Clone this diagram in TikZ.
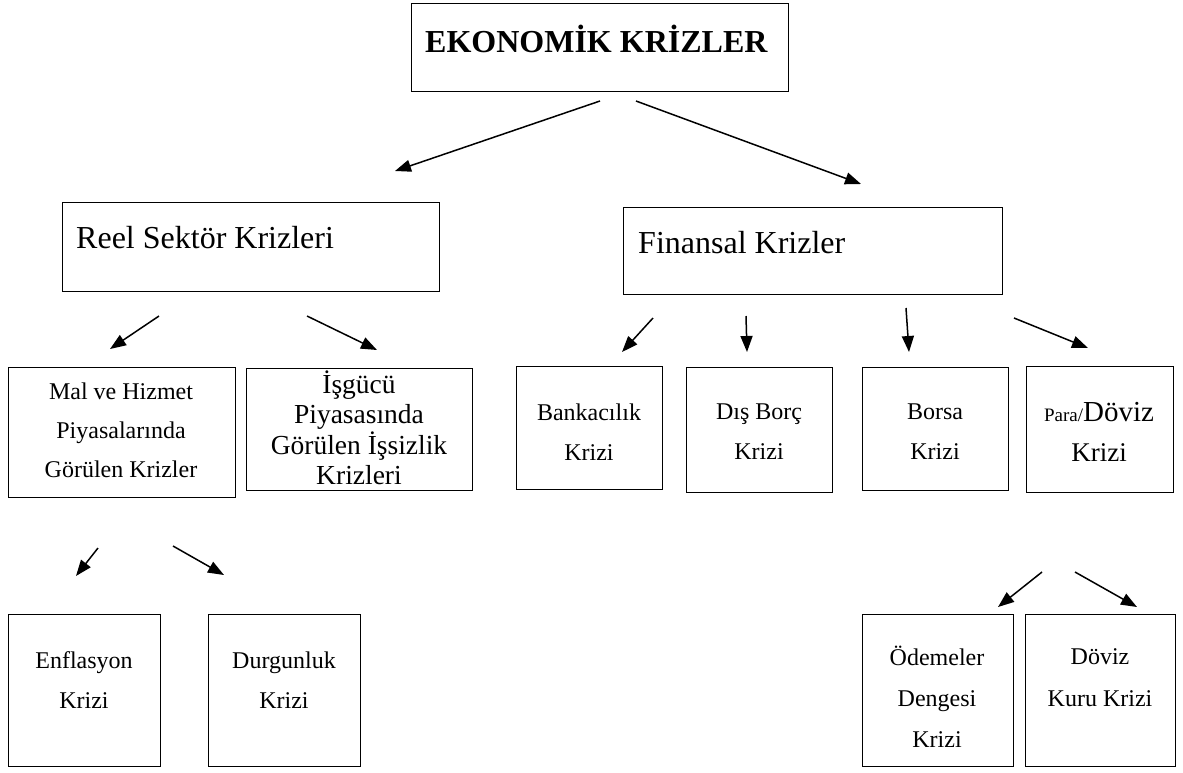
\documentclass[tikz,border=0pt]{standalone}
\usepackage{fontspec}
\setmainfont{Liberation Serif}
\usetikzlibrary{arrows.meta,calc}
\begin{document}
\begin{tikzpicture}[x=1pt,y=-1pt,
  box/.style={draw,line width=1.3pt,inner sep=0pt,anchor=north west},
  arr/.style={line width=1.5pt,-{Triangle[length=16pt,width=12pt]}},
  txt/.style={inner sep=0pt,align=center},
  big/.style={font=\fontsize{32}{38}\selectfont},
  mid/.style={font=\fontsize{24}{40}\selectfont}
]
\useasboundingbox (0,0) rectangle (1183,772);
% boxes
\node[box,minimum width=377pt,minimum height=88pt] (eko) at (411,3) {};
\node[box,minimum width=377pt,minimum height=89pt] (reel) at (62,202) {};
\node[box,minimum width=379pt,minimum height=87pt] (fin) at (623,207) {};
\node[box,minimum width=227pt,minimum height=130pt] (mal) at (8,367) {};
\node[box,minimum width=226pt,minimum height=122pt] (isg) at (246,368) {};
\node[box,minimum width=146pt,minimum height=123pt] (bank) at (516,366) {};
\node[box,minimum width=146pt,minimum height=125pt] (dis) at (686,367) {};
\node[box,minimum width=146pt,minimum height=123pt] (borsa) at (862,367) {};
\node[box,minimum width=147pt,minimum height=126pt] (para) at (1026,366) {};
\node[box,minimum width=152pt,minimum height=152pt] (enf) at (8,614) {};
\node[box,minimum width=152pt,minimum height=152pt] (dur) at (208,614) {};
\node[box,minimum width=151pt,minimum height=152pt] (ode) at (862,614) {};
\node[box,minimum width=150pt,minimum height=152pt] (kur) at (1025,614) {};
% texts
\node[inner sep=0pt,anchor=base west,font=\fontsize{32}{38}\selectfont\bfseries] (ekot) at (425,52) {EKONOMİK KRİZLER};
\node[inner sep=0pt,anchor=base west,big] (reelt) at (76,248) {Reel Sektör Krizleri};
\node[inner sep=0pt,anchor=base west,big] (fint) at (638,253) {Finansal Krizler};
\node[txt,font=\fontsize{24}{39}\selectfont] (malt) at (121,430) {Mal ve Hizmet\\Piyasalarında\\Görülen Krizler};
\node[txt,font=\fontsize{27.5}{30.5}\selectfont] (isgt) at (359,428) {İşgücü\\Piyasasında\\Görülen İşsizlik\\Krizleri};
\node[txt,mid] (bankt) at (589,432) {Bankacılık\\Krizi};
\node[txt,mid] (dist) at (759,432) {Dış Borç\\Krizi};
\node[txt,mid] (borsat) at (935,432) {Borsa\\Krizi};
\node[txt,font=\fontsize{27}{40}\selectfont] (parat) at (1099,432) {{\fontsize{19}{20}\selectfont Para/}{\fontsize{29}{30}\selectfont Döviz}\\Krizi};
\node[txt,mid] (enft) at (84,680) {Enflasyon\\Krizi};
\node[txt,mid] (durt) at (284,680) {Durgunluk\\Krizi};
\node[txt,font=\fontsize{24}{41}\selectfont] (odet) at (937,697) {Ödemeler\\Dengesi\\Krizi};
\node[txt,font=\fontsize{24}{42}\selectfont] (kurt) at (1100,678) {Döviz\\Kuru Krizi};
% arrow end points
\coordinate (a1s) at (600,101); \coordinate (a1e) at (395,171);
\coordinate (a2s) at (636,101); \coordinate (a2e) at (861,184);
\coordinate (a3s) at (159,316); \coordinate (a3e) at (110,349);
\coordinate (a4s) at (307,316); \coordinate (a4e) at (377,350);
\coordinate (a5s) at (653,318); \coordinate (a5e) at (622,352);
\coordinate (a6s) at (746,316); \coordinate (a6e) at (747,352);
\coordinate (a7s) at (906,308); \coordinate (a7e) at (909,352);
\coordinate (a8s) at (1014,318); \coordinate (a8e) at (1088,348);
\coordinate (a9s) at (98,548); \coordinate (a9e) at (76,576);
\coordinate (a10s) at (173,546); \coordinate (a10e) at (224,575);
\coordinate (a11s) at (1042,572); \coordinate (a11e) at (998,607);
\coordinate (a12s) at (1075,572); \coordinate (a12e) at (1137,607);
\draw[arr] (a1s) -- (a1e);
\draw[arr] (a2s) -- (a2e);
\draw[arr] (a3s) -- (a3e);
\draw[arr] (a4s) -- (a4e);
\draw[arr] (a5s) -- (a5e);
\draw[arr] (a6s) -- (a6e);
\draw[arr] (a7s) -- (a7e);
\draw[arr] (a8s) -- (a8e);
\draw[arr] (a9s) -- (a9e);
\draw[arr] (a10s) -- (a10e);
\draw[arr] (a11s) -- (a11e);
\draw[arr] (a12s) -- (a12e);
\end{tikzpicture}
\end{document}
